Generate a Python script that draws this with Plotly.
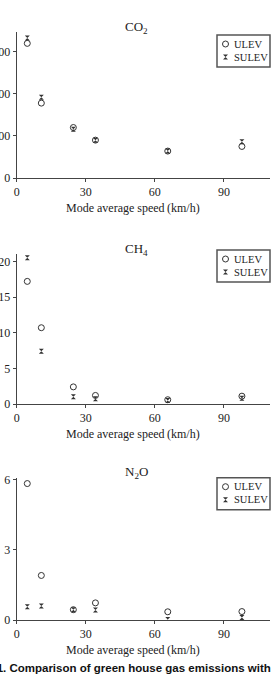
import plotly.graph_objects as go

# Data
speed = [4.6, 10.7, 24.6, 34.2, 65.6, 97.8]
co2_ulev = [320, 178, 120, 90, 64, 75]
co2_sulev = [333, 192, 116, 90, 64, 86]
ch4_ulev = [17.2, 10.7, 2.4, 1.2, 0.6, 1.1]
ch4_sulev = [20.5, 7.4, 1.0, 0.75, 0.5, 0.8]
n2o_ulev = [5.82, 1.9, 0.44, 0.73, 0.35, 0.36]
n2o_sulev = [0.57, 0.6, 0.44, 0.43, 0.02, 0.11]
series_names = ["ULEV", "SULEV"]
x_ticks = [0, 30, 60, 90]

W, H = 276, 684
FONT = "Liberation Serif"
AX = "#444444"
MK = "#333333"
sym = {"ULEV": dict(symbol="circle-open", size=6, color=MK, line=dict(width=1, color=MK)),
       "SULEV": dict(symbol="hourglass", size=5, color=MK, line=dict(width=0))}

fig = go.Figure()

# title, ulev, sulev, y-range, dtick, (axis top px, axis bottom px), legend top px
panels = [
    ("CO<sub>2</sub>", co2_ulev, co2_sulev, [0, 347], 100, (32, 178), 35),
    ("CH<sub>4</sub>", ch4_ulev, ch4_sulev, [0, 21], 5, (254.3, 404), 250),
    ("N<sub>2</sub>O", n2o_ulev, n2o_sulev, [0, 6.07], 3, (477.7, 620), 477.7),
]

x0, x1 = 16.7 / W, 270 / W
layout = dict(
    width=W, height=H, margin=dict(l=0, r=0, t=0, b=0),
    paper_bgcolor="white", plot_bgcolor="rgba(0,0,0,0)", template="none",
    font=dict(family=FONT, size=11, color="#222222"),
    showlegend=False, annotations=[], shapes=[],
)

# overlay axis in pixel units for legend keys
layout["xaxis4"] = dict(domain=[0, 1], range=[0, W], visible=False, anchor="y4",
                        fixedrange=True, automargin=False, showgrid=False, zeroline=False)
layout["yaxis4"] = dict(domain=[0, 1], range=[H, 0], visible=False, anchor="x4",
                        fixedrange=True, automargin=False, showgrid=False, zeroline=False)

for i, (title, u, s, yr, dt, (top, bot), ltop) in enumerate(panels):
    n = "" if i == 0 else str(i + 1)
    xa, ya = "x" + n, "y" + n
    for name, vals in zip(series_names, [u, s]):
        fig.add_trace(go.Scatter(x=speed, y=vals, mode="markers", name=name,
                                 xaxis=xa, yaxis=ya, marker=sym[name]))
    yd = [1 - bot / H, 1 - top / H]
    common = dict(showline=True, linecolor=AX, linewidth=1, ticks="outside",
                  ticklen=3, tickcolor=AX, showgrid=False, zeroline=False,
                  automargin=False, fixedrange=True,
                  tickfont=dict(family=FONT, size=12, color="#222222"))
    layout["xaxis" + n] = dict(domain=[x0, x1], range=[0, 110], tickvals=x_ticks,
                               anchor=ya, **common)
    layout["yaxis" + n] = dict(domain=yd, range=yr, dtick=dt, tick0=0,
                               anchor=xa, **common)
    # panel title
    layout["annotations"].append(dict(
        text=title, x=136 / W, y=1 - (top - 5) / H, xref="paper", yref="paper",
        xanchor="center", yanchor="middle", showarrow=False,
        font=dict(family=FONT, size=13, color="#222222")))
    # x axis title
    layout["annotations"].append(dict(
        text="Mode average speed\u2009(km/h)", x=133 / W, y=1 - (bot + 30) / H,
        xref="paper", yref="paper", xanchor="center", yanchor="middle",
        showarrow=False, font=dict(family=FONT, size=12, color="#222222")))
    # legend box
    layout["shapes"].append(dict(type="rect", xref="paper", yref="paper",
                                 x0=217 / W, x1=270 / W, y0=1 - ltop / H, y1=1 - (ltop + 32) / H,
                                 line=dict(color="#555555", width=1.5), fillcolor="white",
                                 layer="below"))
    for k, name in enumerate(series_names):
        ry = ltop + 9 + 13 * k
        fig.add_trace(go.Scatter(x=[225.5], y=[ry], mode="markers", xaxis="x4", yaxis="y4",
                                 marker=sym[name], hoverinfo="skip"))
        layout["annotations"].append(dict(
            text=name, x=232 / W, y=1 - ry / H, xref="paper", yref="paper",
            xanchor="left", yanchor="middle", showarrow=False,
            font=dict(family=FONT, size=10.5, color="#222222")))

layout["annotations"].append(dict(
    text="<b>Fig. 1. Comparison of green house gas emissions with</b>",
    x=273 / W, y=1 - 668 / H, xref="paper", yref="paper", xanchor="right",
    yanchor="middle", showarrow=False,
    font=dict(family="Liberation Sans", size=11.5, color="#111111")))

fig.update_layout(**layout)
fig.write_html("out.html", config={"displayModeBar": False})
